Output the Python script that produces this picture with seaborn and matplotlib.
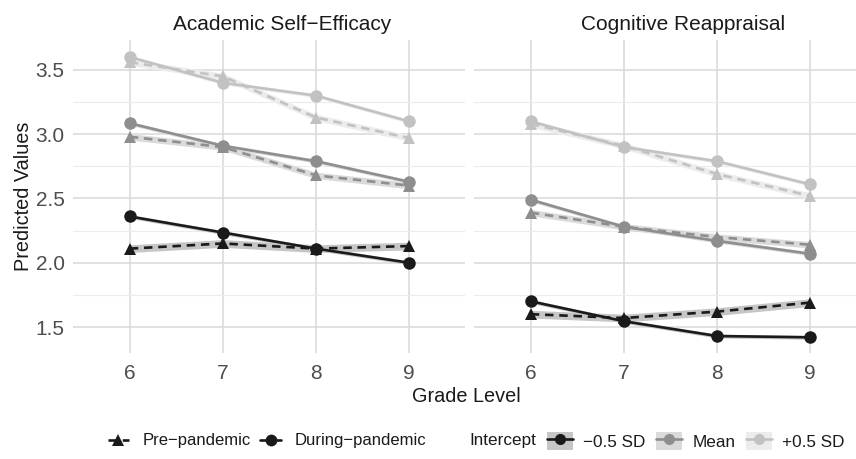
import matplotlib
matplotlib.use("Agg")
import matplotlib.pyplot as plt
import numpy as np
import pandas as pd
import seaborn as sns
from matplotlib.lines import Line2D
from matplotlib.patches import Patch

GRADES = [6, 7, 8, 9]
OUTCOMES = ["Academic Self\u2212Efficacy", "Cognitive Reappraisal"]
INTERCEPTS = ["\u22120.5 SD", "Mean", "+0.5 SD"]
PERIODS = ["Pre\u2212pandemic", "During\u2212pandemic"]

# Academic Self-Efficacy
ase_pre_low = [2.11, 2.15, 2.11, 2.13]
ase_pre_mean = [2.98, 2.90, 2.68, 2.60]
ase_pre_high = [3.56, 3.45, 3.13, 2.97]
ase_dur_low = [2.36, 2.235, 2.11, 2.00]
ase_dur_mean = [3.085, 2.91, 2.79, 2.63]
ase_dur_high = [3.60, 3.40, 3.30, 3.10]

# Cognitive Reappraisal
cr_pre_low = [1.60, 1.57, 1.62, 1.69]
cr_pre_mean = [2.39, 2.28, 2.20, 2.14]
cr_pre_high = [3.08, 2.91, 2.69, 2.52]
cr_dur_low = [1.70, 1.545, 1.43, 1.42]
cr_dur_mean = [2.49, 2.28, 2.17, 2.07]
cr_dur_high = [3.10, 2.90, 2.79, 2.61]

# ribbon half-widths per intercept level
ci_pre = [0.03, 0.025, 0.025]
ci_dur = [0.015, 0.015, 0.015]

LINE_COLORS = ["#1a1a1a", "#8e8e8e", "#c2c2c2"]
RIBBON_COLORS = ["#c6c6c6", "#dadada", "#ececec"]
GRID = "#d9d9d9"

series = {
    OUTCOMES[0]: {PERIODS[0]: [ase_pre_low, ase_pre_mean, ase_pre_high],
                  PERIODS[1]: [ase_dur_low, ase_dur_mean, ase_dur_high]},
    OUTCOMES[1]: {PERIODS[0]: [cr_pre_low, cr_pre_mean, cr_pre_high],
                  PERIODS[1]: [cr_dur_low, cr_dur_mean, cr_dur_high]},
}

rows = []
for outcome, per in series.items():
    for period, levels in per.items():
        for lvl, vals in zip(INTERCEPTS, levels):
            for g, v in zip(GRADES, vals):
                rows.append({"outcome": outcome, "period": period,
                             "intercept": lvl, "grade": g, "value": v})
df = pd.DataFrame(rows)

sns.set_theme(style="white")
plt.rcParams["font.family"] = ["Liberation Sans", "DejaVu Sans"]

fig = plt.figure(figsize=(8.56, 4.59), dpi=100)
W = 392 / 856
axes = [fig.add_axes([73 / 856, 1 - 353 / 459, W, 313 / 459]),
        fig.add_axes([474 / 856, 1 - 353 / 459, W, 313 / 459])]

palette = dict(zip(INTERCEPTS, LINE_COLORS))
for i, (ax, outcome) in enumerate(zip(axes, OUTCOMES)):
    ax.set_xlim(5.39, 9.6)
    ax.set_ylim(1.298, 3.733)
    ax.set_yticks([1.5, 2.0, 2.5, 3.0, 3.5])
    ax.set_yticks([1.75, 2.25, 2.75, 3.25], minor=True)
    ax.set_xticks(GRADES)
    ax.grid(True, which="major", color=GRID, lw=1.1, zorder=0)
    ax.grid(True, which="minor", axis="y", color="#ececec", lw=0.8, zorder=0)
    for s in ax.spines.values():
        s.set_visible(False)
    ax.set_axisbelow(True)

    for period, ci in zip(PERIODS, [ci_pre, ci_dur]):
        for lvl, vals, c, rc in zip(INTERCEPTS, series[outcome][period], ci, RIBBON_COLORS):
            v = np.array(vals)
            ax.fill_between(GRADES, v - c, v + c, color=rc, lw=0, zorder=1)

    sub = df[df["outcome"] == outcome]
    sns.lineplot(data=sub, x="grade", y="value", hue="intercept", style="period",
                 hue_order=INTERCEPTS, style_order=PERIODS, palette=palette,
                 markers={PERIODS[0]: "^", PERIODS[1]: "o"},
                 dashes={PERIODS[0]: (3.2, 2.2), PERIODS[1]: ""},
                 linewidth=1.9, markersize=9, markeredgewidth=0,
                 errorbar=None, legend=False, ax=ax)
    ax.set_xlabel("")
    ax.set_ylabel("")
    ax.set_title(outcome, fontsize=15, color="#1a1a1a", pad=7, x=0.533)
    ax.tick_params(axis="both", length=0, labelsize=15, labelcolor="#4d4d4d")
    ax.tick_params(axis="x", pad=8)
    ax.tick_params(axis="y", pad=6)
    if i == 1:
        ax.tick_params(axis="y", labelleft=False)

axes[0].set_ylabel("Predicted Values", fontsize=14.3, color="#1a1a1a", labelpad=2)
fig.text(466 / 856, 1 - 397 / 459, "Grade Level", ha="center", va="center",
         fontsize=14.3, color="#1a1a1a")

# legends
period_handles = [
    Line2D([], [], color="#1a1a1a", ls=(0, (3.2, 2.2)), lw=1.9, marker="^", markersize=8.5, markeredgewidth=0),
    Line2D([], [], color="#1a1a1a", lw=1.9, marker="o", markersize=8.5, markeredgewidth=0),
]
leg1 = fig.legend(period_handles, PERIODS, loc="center left",
                  bbox_to_anchor=(108 / 856, 1 - 441 / 459), ncol=2, frameon=False,
                  fontsize=12, handlelength=1.25, handletextpad=0.8, columnspacing=0.6,
                  labelcolor="#1a1a1a", borderpad=0, borderaxespad=0)

int_handles = [(Patch(facecolor=rc, edgecolor="none"),
                Line2D([], [], color=c, lw=1.9, marker="o", markersize=8, markeredgewidth=0))
               for c, rc in zip(LINE_COLORS, RIBBON_COLORS)]
fig.text(469 / 856, 1 - 441 / 459, "Intercept", ha="left", va="center",
         fontsize=12.3, color="#1a1a1a")
leg2 = fig.legend(int_handles, INTERCEPTS, loc="center left",
                  bbox_to_anchor=(547 / 856, 1 - 441 / 459), ncol=3, frameon=False,
                  fontsize=12.3, handlelength=1.5, handleheight=1.3, handletextpad=0.6,
                  columnspacing=0.65, labelcolor="#1a1a1a", borderpad=0, borderaxespad=0)

fig.savefig("out.png", dpi=100)
